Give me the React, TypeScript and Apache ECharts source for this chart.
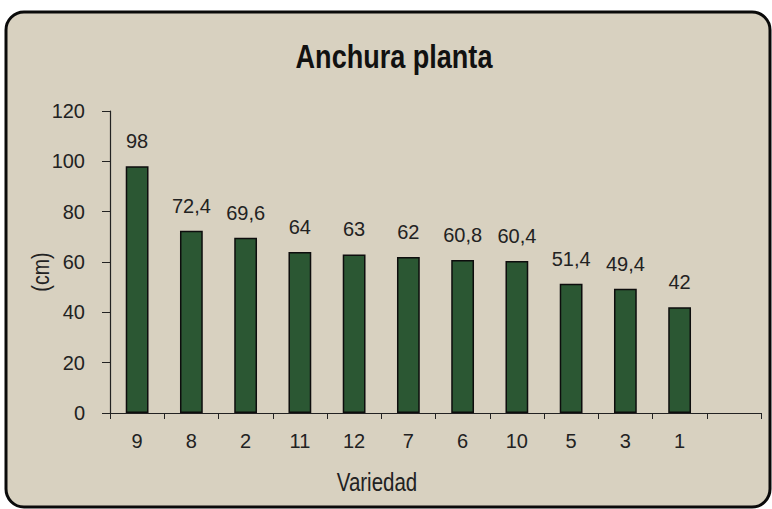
import React, { useEffect, useRef } from "react";
import * as echarts from "echarts";

const categories: string[] = ["9", "8", "2", "11", "12", "7", "6", "10", "5", "3", "1", ""];
const values: (number | null)[] = [98, 72.4, 69.6, 64, 63, 62, 60.8, 60.4, 51.4, 49.4, 42, null];
const yTicks = { min: 0, max: 120, interval: 20 };
const title = "Anchura planta";
const xName = "Variedad";
const yName = "(cm)";

const FONT = "'Liberation Sans', Arial, sans-serif";
const NARROW = 0.82;

export default function App() {
  const ref = useRef<HTMLDivElement>(null);
  useEffect(() => {
    if (!ref.current) return;
    const chart = echarts.init(ref.current, undefined, { renderer: "svg" });
    chart.setOption({
      animation: false,
      backgroundColor: "#ffffff",
      textStyle: { fontFamily: FONT },
      graphic: [
        {
          type: "rect",
          z: -10,
          silent: true,
          shape: { x: 6, y: 12, width: 764, height: 495, r: 18 },
          style: { fill: "#d8d1c0", stroke: "#0a0a0a", lineWidth: 3 },
        },
        {
          type: "text",
          z: 10,
          x: 394,
          y: 57,
          scaleX: NARROW,
          style: {
            text: title,
            font: `bold 33px ${FONT}`,
            fill: "#111",
            align: "center",
            verticalAlign: "middle",
          },
        },
        {
          type: "text",
          z: 10,
          x: 377,
          y: 482,
          scaleX: NARROW,
          style: {
            text: xName,
            font: `25px ${FONT}`,
            fill: "#222",
            align: "center",
            verticalAlign: "middle",
          },
        },
        {
          type: "text",
          z: 10,
          x: 41,
          y: 272,
          rotation: Math.PI / 2,
          scaleX: NARROW,
          style: {
            text: yName,
            font: `24px ${FONT}`,
            fill: "#222",
            align: "center",
            verticalAlign: "middle",
          },
        },
      ],
      grid: { left: 110, right: 11, top: 111, bottom: 96, containLabel: false },
      xAxis: {
        type: "category",
        data: categories,
        boundaryGap: true,
        axisLine: { show: true, lineStyle: { color: "#222", width: 1.2 } },
        axisTick: { show: true, interval: 0, length: 6, lineStyle: { color: "#222" } },
        axisLabel: { interval: 0, fontSize: 20, color: "#222", margin: 18, fontFamily: FONT },
      },
      yAxis: {
        type: "value",
        min: yTicks.min,
        max: yTicks.max,
        interval: yTicks.interval,
        axisLine: { show: true, lineStyle: { color: "#222", width: 1.2 } },
        axisTick: { show: true, length: 8, lineStyle: { color: "#222" } },
        axisLabel: { fontSize: 20, color: "#222", margin: 25, fontFamily: FONT },
        splitLine: { show: false },
      },
      series: [
        {
          type: "bar",
          data: values,
          barWidth: "42%",
          itemStyle: { color: "#2b5733", borderColor: "#0d0d0d", borderWidth: 1.5 },
          label: {
            show: true,
            position: "top",
            distance: 15,
            fontSize: 20,
            color: "#222",
            fontFamily: FONT,
            formatter: (p: any) => String(p.value).replace(".", ","),
          },
        },
      ],
    });
    return () => chart.dispose();
  }, []);
  return (
    <div
      ref={ref}
      style={{ position: "fixed", left: 0, top: 0, width: 772, height: 509 }}
    />
  );
}
